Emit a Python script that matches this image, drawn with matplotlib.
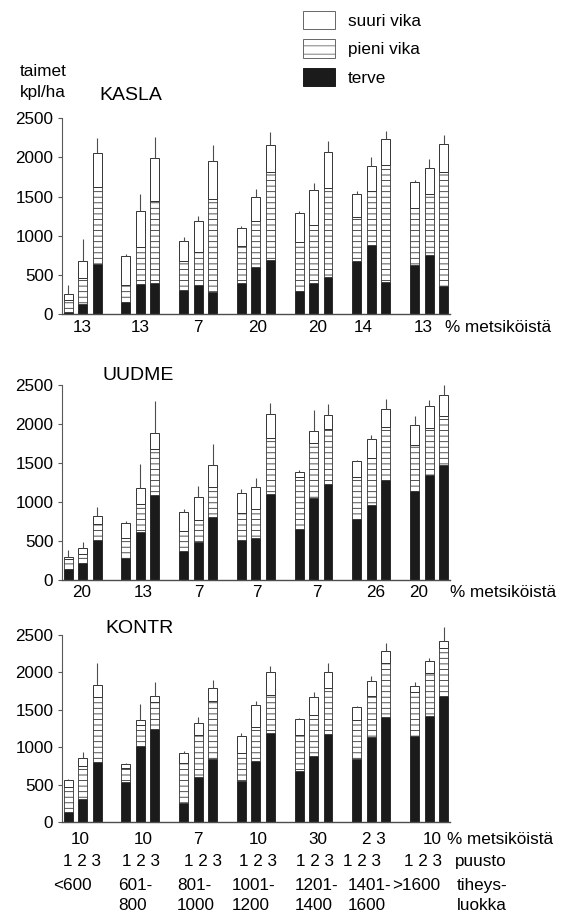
import matplotlib
matplotlib.use('Agg')
import matplotlib.pyplot as plt
import numpy as np
from matplotlib.patches import Patch

plt.rcParams['font.family'] = ['Liberation Sans', 'DejaVu Sans']
plt.rcParams['hatch.color'] = '0.3'
plt.rcParams['hatch.linewidth'] = 0.6

# ---------------- data ----------------
series_names = ['suuri vika', 'pieni vika', 'terve']
panel_names = ['KASLA', 'UUDME', 'KONTR']
pct_labels = {
    'KASLA': ['13', '13', '7', '20', '20', '14', '13'],
    'UUDME': ['20', '13', '7', '7', '7', '26', '20'],
    'KONTR': ['10', '10', '7', '10', '30', '2 3', '10'],
}
puusto_label = '1 2 3'
class_top = ['<600', '601-', '801-', '1001-', '1201-', '1401-', '>1600']
class_bottom = ['', '800', '1000', '1200', '1400', '1600', '']
yticks = [0, 500, 1000, 1500, 2000, 2500]

# values per bar (7 density classes x 3 puusto classes), kpl/ha
kasla_terve = [30, 125, 643, 153, 379, 392, 311, 370, 285, 396, 596, 694,
               290, 392, 468, 673, 877, 409, 622, 750, 353]
kasla_pieni = [150, 330, 984, 213, 477, 1052, 362, 422, 1184, 473, 592, 1116,
               634, 749, 1142, 562, 699, 1499, 732, 783, 1466]
kasla_suuri = [70, 218, 434, 371, 456, 545, 255, 396, 486, 230, 303, 345,
               362, 448, 464, 298, 315, 328, 337, 332, 353]
kasla_err = [120, 285, 184, 25, 225, 268, 60, 64, 204, 21, 106, 175,
             34, 89, 132, 34, 111, 106, 21, 115, 119]

uudme_terve = [150, 221, 515, 281, 617, 1090, 379, 490, 813, 520, 545, 1099,
               652, 1056, 1235, 779, 963, 1278, 1141, 1350, 1474]
uudme_pieni = [120, 115, 205, 256, 354, 588, 247, 277, 375, 336, 362, 715,
               668, 699, 703, 541, 604, 681, 584, 601, 626]
uudme_suuri = [32, 73, 102, 196, 204, 200, 251, 293, 281, 256, 286, 316,
               68, 153, 170, 200, 235, 230, 255, 272, 272]
uudme_err = [81, 81, 115, 25, 311, 409, 30, 150, 269, 55, 119, 136,
             26, 273, 141, 13, 51, 132, 115, 85, 119]

kontr_terve = [129, 311, 805, 529, 1014, 1241, 258, 605, 841, 547, 814, 1192,
               685, 885, 1170, 845, 1130, 1401, 1152, 1410, 1677]
kontr_pieni = [342, 441, 859, 187, 280, 365, 525, 556, 769, 369, 449, 503,
               476, 538, 614, 516, 551, 716, 583, 583, 640]
kontr_suuri = [94, 106, 164, 54, 67, 71, 133, 164, 178, 232, 294, 302,
               213, 245, 222, 174, 205, 165, 80, 155, 94]
kontr_err = [5, 81, 298, 22, 209, 196, 36, 72, 107, 44, 58, 85,
             18, 67, 120, 13, 62, 102, 53, 36, 195]

data = {
    'KASLA': (kasla_terve, kasla_pieni, kasla_suuri, kasla_err),
    'UUDME': (uudme_terve, uudme_pieni, uudme_suuri, uudme_err),
    'KONTR': (kontr_terve, kontr_pieni, kontr_suuri, kontr_err),
}

# ---------------- layout (pixels) ----------------
W, H = 569, 913
fig = plt.figure(figsize=(W / 100, H / 100), dpi=100)


def fx(px):
    return px / W


def fy(py):
    return 1 - py / H


ax_left, ax_right = 61.7, 450
panel_y = {'KASLA': (314, 118.3), 'UUDME': (580.3, 384.7), 'KONTR': (822, 634.7)}
title_pos = {'KASLA': (99, 95), 'UUDME': (102, 375), 'KONTR': (105, 628)}
pct_x = {
    'KASLA': [82, 140, 198, 258, 318, 363, 423],
    'UUDME': [82, 143, 199, 257, 317, 376, 419],
    'KONTR': [80, 143, 198, 258, 318, 374, 432],
}
pct_y = {'KASLA': 328, 'UUDME': 592, 'KONTR': 839}
pct_text_x = {'KASLA': 445, 'UUDME': 450, 'KONTR': 447}

FS = 12.3
black = '#1b1b1b'
edge = '0.2'

for name in panel_names:
    y0, y1 = panel_y[name]
    ax = fig.add_axes([fx(ax_left), fy(y0), (ax_right - ax_left) / W, (y0 - y1) / H])
    terve, pieni, suuri, err = (np.array(a, dtype=float) for a in data[name])
    x = np.array([g * 4 + b for g in range(7) for b in range(3)], dtype=float)
    wbar = 0.62
    ax.bar(x, terve, width=wbar, color=black, edgecolor=black, lw=0.6, clip_on=False)
    ax.bar(x, pieni, width=wbar, bottom=terve, color='white', edgecolor=edge,
           hatch='---', lw=0.6, clip_on=False)
    ax.bar(x, suuri, width=wbar, bottom=terve + pieni, color='white', edgecolor=edge,
           lw=0.7, clip_on=False)
    total = terve + pieni + suuri
    ax.vlines(x, total, total + err, color='0.3', lw=0.8, clip_on=False)

    ax.set_xlim(-0.45, 26.45)
    ax.set_ylim(0, 2500)
    for s in ['top', 'right']:
        ax.spines[s].set_visible(False)
    ax.spines['left'].set_bounds(0, 2500)
    ax.spines['left'].set_color('0.35')
    ax.spines['left'].set_linewidth(0.8)
    ax.spines['bottom'].set_color('0.3')
    ax.spines['bottom'].set_linewidth(1.0)
    ax.set_xticks([])
    ax.set_yticks(yticks)
    ax.tick_params(axis='y', direction='out', length=3, width=0.8, pad=3,
                   labelsize=FS, color='0.35')
    ax.patch.set_alpha(0)

    tx, ty = title_pos[name]
    fig.text(fx(tx), fy(ty), name, fontsize=14, ha='left', va='center')
    for lab, px in zip(pct_labels[name], pct_x[name]):
        fig.text(fx(px), fy(pct_y[name]), lab, fontsize=FS, ha='center', va='center')
    fig.text(fx(pct_text_x[name]), fy(pct_y[name]), '% metsiköistä', fontsize=FS,
             ha='left', va='center')

# bottom class labels
row2_x = [82, 141, 203, 258, 315, 362, 423]
for px in row2_x:
    fig.text(fx(px), fy(861), puusto_label, fontsize=FS, ha='center', va='center')
fig.text(fx(455), fy(861), 'puusto', fontsize=FS, ha='left', va='center')
row3_x = [53, 118, 177, 232, 295, 348, 392]
for lab, px in zip(class_top, row3_x):
    fig.text(fx(px), fy(885), lab, fontsize=FS, ha='left', va='center')
for lab, px in zip(class_bottom, row3_x):
    if lab:
        fig.text(fx(px), fy(905), lab, fontsize=FS, ha='left', va='center')
fig.text(fx(457), fy(885), 'tiheys-', fontsize=FS, ha='left', va='center')
fig.text(fx(457), fy(905), 'luokka', fontsize=FS, ha='left', va='center')

# y-axis unit label
fig.text(fx(20), fy(71), 'taimet', fontsize=FS, ha='left', va='center')
fig.text(fx(20), fy(92), 'kpl/ha', fontsize=FS, ha='left', va='center')

# legend
handles = [
    Patch(facecolor='white', edgecolor='0.4', lw=0.7, label=series_names[0]),
    Patch(facecolor='white', edgecolor='0.4', lw=0.7, hatch='--', label=series_names[1]),
    Patch(facecolor=black, edgecolor=black, lw=0.7, label=series_names[2]),
]
fig.legend(handles=handles, loc='upper left', bbox_to_anchor=(fx(302.7), fy(10.7)),
           frameon=False, fontsize=FS, handlelength=1.92, handleheight=1.26,
           labelspacing=0.62, handletextpad=0.72, borderpad=0, borderaxespad=0)

fig.savefig('out.png', dpi=100)
